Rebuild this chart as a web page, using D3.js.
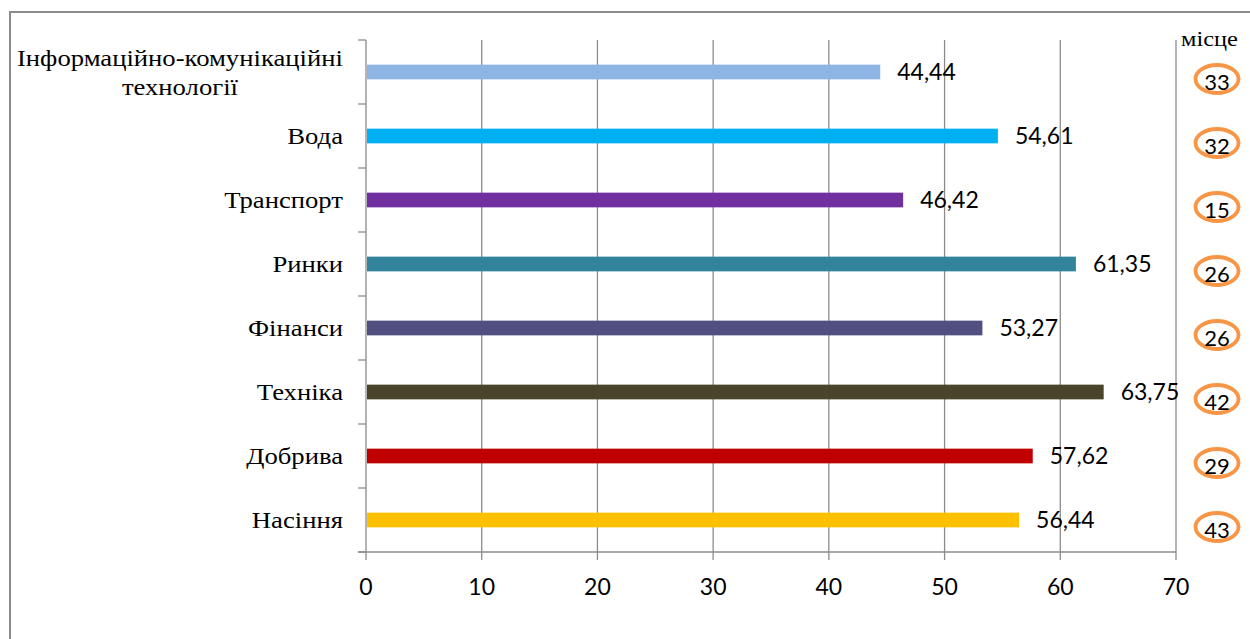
<!DOCTYPE html>
<html>
<head>
<meta charset="utf-8">
<script src="https://cdn.jsdelivr.net/npm/d3@7"></script>
<style>
  html, body { margin: 0; padding: 0; background: #fff; }
  svg { display: block; }
</style>
</head>
<body>
<svg id="chart" width="1250" height="639"></svg>
<script>
// категорії зверху вниз
const categories = [
  "Інформаційно-комунікаційні\nтехнології",
  "Вода",
  "Транспорт",
  "Ринки",
  "Фінанси",
  "Техніка",
  "Добрива",
  "Насіння"
];
const values = [44.44, 54.61, 46.42, 61.35, 53.27, 63.75, 57.62, 56.44];
const ranks = [33, 32, 15, 26, 26, 42, 29, 43];
const barColors = ["#8EB4E3", "#00B0F0", "#7030A0", "#31849B", "#4F5080", "#4A452A", "#C00000", "#FFC000"];
const xTicks = [0, 10, 20, 30, 40, 50, 60, 70];
const rankTitle = "місце";

const serif = "'Liberation Serif', 'Times New Roman', serif";
const sans = "Lato, Carlito, Calibri, sans-serif";
const stretch = 1.16; // текст у оригіналі трохи розтягнутий по горизонталі

const svg = d3.select("#chart");

// рамка навколо діаграми
svg.append("rect")
  .attr("x", 10).attr("y", 12)
  .attr("width", 1270).attr("height", 660)
  .attr("fill", "none")
  .attr("stroke", "#8c8c8c")
  .attr("stroke-width", 2);

const x = d3.scaleLinear().domain([0, 70]).range([366, 1176]);
const y = d3.scaleBand()
  .domain(categories)
  .range([40, 552])
  .paddingInner(0.77)
  .paddingOuter(0.385);
const step = y.step();
const plotTop = y.range()[0], plotBottom = y.range()[1];

// вертикальна сітка
svg.append("g")
  .selectAll("line")
  .data(xTicks.slice(1))
  .join("line")
  .attr("x1", d => x(d)).attr("x2", d => x(d))
  .attr("y1", plotTop).attr("y2", plotBottom)
  .attr("stroke", "#8c8c8c")
  .attr("stroke-width", 1.3);

// вісь X
const xAxis = svg.append("g");
xAxis.append("line")
  .attr("x1", x(0) - 8).attr("x2", x(70))
  .attr("y1", plotBottom).attr("y2", plotBottom)
  .attr("stroke", "#8c8c8c").attr("stroke-width", 1.3);
xAxis.selectAll(".tick")
  .data(xTicks)
  .join("line")
  .attr("class", "tick")
  .attr("x1", d => x(d)).attr("x2", d => x(d))
  .attr("y1", plotBottom).attr("y2", plotBottom + 8)
  .attr("stroke", "#8c8c8c").attr("stroke-width", 1.3);
xAxis.selectAll("text")
  .data(xTicks)
  .join("text")
  .attr("x", d => x(d))
  .attr("y", plotBottom + 43)
  .attr("text-anchor", "middle")
  .style("font", `23px ${sans}`)
  .attr("fill", "#000")
  .text(d => d);

// вісь Y
const yAxis = svg.append("g");
yAxis.append("line")
  .attr("x1", x(0)).attr("x2", x(0))
  .attr("y1", plotTop).attr("y2", plotBottom)
  .attr("stroke", "#8c8c8c").attr("stroke-width", 1.3);
yAxis.selectAll(".tick")
  .data(d3.range(categories.length + 1))
  .join("line")
  .attr("class", "tick")
  .attr("x1", x(0) - 8).attr("x2", x(0))
  .attr("y1", i => plotTop + i * step).attr("y2", i => plotTop + i * step)
  .attr("stroke", "#8c8c8c").attr("stroke-width", 1.3);

// підписи категорій
const labelRight = x(0) - 23;
const catLabel = yAxis.selectAll(".cat")
  .data(categories)
  .join("g")
  .attr("class", "cat");
catLabel.each(function (d) {
  const g = d3.select(this);
  const lines = d.split("\n");
  const cy = y(d) + y.bandwidth() / 2;
  const texts = g.selectAll("text")
    .data(lines)
    .join("text")
    .attr("text-anchor", lines.length > 1 ? "middle" : "end")
    .style("font", `23px ${serif}`)
    .attr("fill", "#000")
    .text(t => t);
  const w = d3.max(texts.nodes(), n => n.getComputedTextLength()) * stretch;
  texts.attr("transform", (t, i) => {
    const by = cy + 8 + (i - (lines.length - 1) / 2) * 29;
    const bx = lines.length > 1 ? labelRight - w / 2 : labelRight;
    return `translate(${bx},${by}) scale(${stretch},1)`;
  });
});

// смуги
svg.append("g")
  .selectAll("rect")
  .data(categories)
  .join("rect")
  .attr("x", x(0) + 1)
  .attr("y", d => y(d))
  .attr("width", (d, i) => x(values[i]) - x(0) - 1)
  .attr("height", y.bandwidth())
  .attr("fill", (d, i) => barColors[i]);

// значення
svg.append("g")
  .selectAll("text")
  .data(categories)
  .join("text")
  .attr("x", (d, i) => x(values[i]) + 17)
  .attr("y", d => y(d) + y.bandwidth() / 2)
  .attr("dy", "0.35em")
  .style("font", `23px ${sans}`)
  .attr("fill", "#000")
  .text((d, i) => d3.format(".2f")(values[i]).replace(".", ","));

// місце в рейтингу
const rankX = x(70) + 41;
svg.append("text")
  .attr("transform", `translate(${x(70) + 5},${plotTop + 6}) scale(${stretch},1)`)
  .style("font", `21px ${serif}`)
  .attr("fill", "#000")
  .text(rankTitle);

const rank = svg.append("g")
  .selectAll("g")
  .data(categories)
  .join("g")
  .attr("transform", d => `translate(${rankX},${y(d) + y.bandwidth() / 2 + 7})`);
rank.append("ellipse")
  .attr("rx", 21.5).attr("ry", 14)
  .attr("fill", "none")
  .attr("stroke", "#F79646")
  .attr("stroke-width", 3.8);
rank.append("text")
  .attr("y", 11)
  .attr("text-anchor", "middle")
  .style("font", `22px ${sans}`)
  .attr("fill", "#000")
  .text((d, i) => ranks[i]);
</script>
</body>
</html>
